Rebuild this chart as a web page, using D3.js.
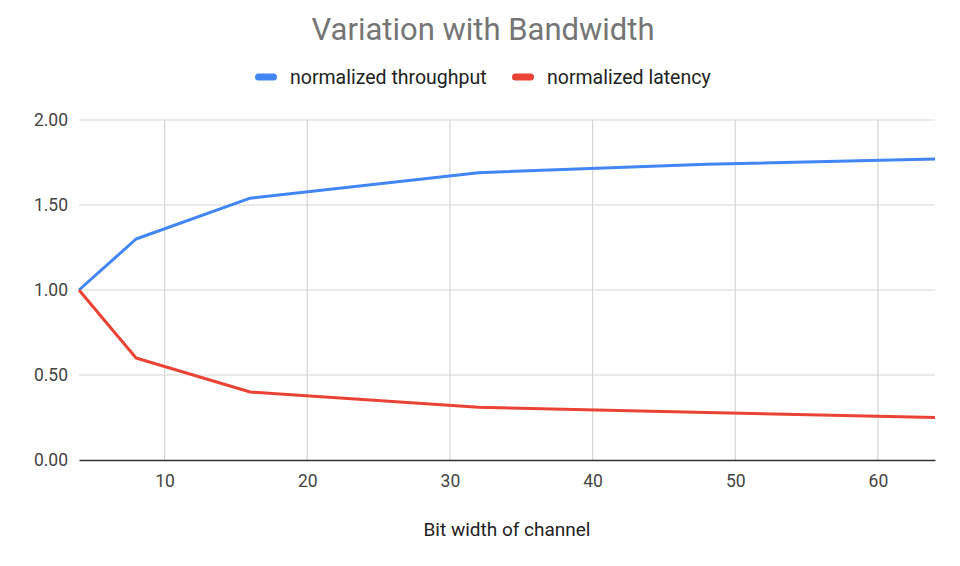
<!DOCTYPE html>
<html>
<head>
<meta charset="utf-8">
<script src="https://cdn.jsdelivr.net/npm/d3@7"></script>
<style>
  body { margin: 0; background: #fff; }
  svg { font-family: Roboto, Arial, sans-serif; }
</style>
</head>
<body>
<svg id="chart" width="960" height="566"></svg>
<script>
const bitWidths = [4, 8, 16, 32, 48, 64];
const throughput = [1.0, 1.30, 1.54, 1.69, 1.74, 1.77];
const latency = [1.0, 0.60, 0.40, 0.31, 0.28, 0.25];
const seriesNames = ['normalized throughput', 'normalized latency'];
const colors = ['#4285f4', '#ea4335'];
const xTicks = [10, 20, 30, 40, 50, 60];
const yTicks = [0, 0.5, 1, 1.5, 2];

const svg = d3.select('#chart');
const margin = { top: 120, right: 25, bottom: 106, left: 79 };
const width = 960 - margin.left - margin.right;
const height = 566 - margin.top - margin.bottom;

const x = d3.scaleLinear().domain([4, 64]).range([0, width]);
const y = d3.scaleLinear().domain([0, 2]).range([height, 0]);

const g = svg.append('g').attr('transform', `translate(${margin.left},${margin.top})`);

// gridlines
g.append('g')
  .selectAll('line')
  .data(xTicks)
  .enter()
  .append('line')
  .attr('x1', d => x(d)).attr('x2', d => x(d))
  .attr('y1', 0).attr('y2', height)
  .attr('stroke', '#d6d6d6').attr('stroke-width', 1.2);

g.append('g')
  .selectAll('line')
  .data(yTicks.filter(d => d > 0))
  .enter()
  .append('line')
  .attr('x1', 0).attr('x2', width)
  .attr('y1', d => y(d)).attr('y2', d => y(d))
  .attr('stroke', '#d6d6d6').attr('stroke-width', 1.2);

// y labels
g.append('g')
  .call(d3.axisLeft(y).tickValues(yTicks).tickFormat(d3.format('.2f')).tickSize(0).tickPadding(11))
  .call(a => a.select('.domain').remove())
  .call(a => a.selectAll('text').attr('fill', '#444').attr('font-size', 17.5).attr('font-family', 'Roboto, Arial, sans-serif'));

// x axis
g.append('g')
  .attr('transform', `translate(0,${height})`)
  .call(d3.axisBottom(x).tickValues(xTicks).tickSize(0).tickPadding(15))
  .call(a => a.select('.domain').attr('stroke', '#333').attr('stroke-width', 1.5))
  .call(a => a.selectAll('text').attr('fill', '#444').attr('font-size', 17.5).attr('font-family', 'Roboto, Arial, sans-serif'));

// lines
const line = d3.line().x(d => x(d[0])).y(d => y(d[1]));
[throughput, latency].forEach((vals, i) => {
  g.append('path')
    .datum(bitWidths.map((b, j) => [b, vals[j]]))
    .attr('fill', 'none')
    .attr('stroke', colors[i])
    .attr('stroke-width', 3)
    .attr('stroke-linejoin', 'round')
    .attr('d', line);
});

// title
svg.append('text')
  .attr('x', 483).attr('y', 40)
  .attr('text-anchor', 'middle')
  .attr('fill', '#757575')
  .attr('font-size', 31)
  .text('Variation with Bandwidth');

// legend
const legendX = [255, 512];
seriesNames.forEach((name, i) => {
  svg.append('rect')
    .attr('x', legendX[i]).attr('y', 73.5)
    .attr('width', 22).attr('height', 7).attr('rx', 3.5)
    .attr('fill', colors[i]);
  svg.append('text')
    .attr('x', legendX[i] + 35).attr('y', 84)
    .attr('fill', '#222')
    .attr('font-size', 19.5)
    .text(name);
});

// x axis title
svg.append('text')
  .attr('x', margin.left + width / 2).attr('y', 536)
  .attr('text-anchor', 'middle')
  .attr('fill', '#222')
  .attr('font-size', 19)
  .text('Bit width of channel');
</script>
</body>
</html>
